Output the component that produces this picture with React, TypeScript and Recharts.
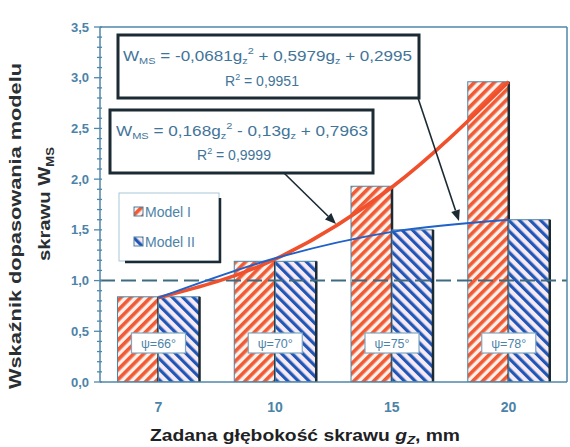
import React from 'react';
import { ComposedChart, Bar, Line, XAxis, YAxis, ReferenceLine, LabelList } from 'recharts';

const categories = ['7', '10', '15', '20'];
const modelI = [0.84, 1.19, 1.93, 2.96];
const modelII = [0.84, 1.19, 1.5, 1.6];
const trendModelI = [0.83, 1.21, 1.92, 2.96];
const trendModelII = [0.83, 1.22, 1.48, 1.6];
const psiLabels = ['ψ=66°', 'ψ=70°', 'ψ=75°', 'ψ=78°'];
const yTicks = [
  0, 0.1, 0.2, 0.3, 0.4, 0.5, 0.6, 0.7, 0.8, 0.9, 1.0, 1.1, 1.2, 1.3, 1.4, 1.5, 1.6, 1.7,
  1.8, 1.9, 2.0, 2.1, 2.2, 2.3, 2.4, 2.5, 2.6, 2.7, 2.8, 2.9, 3.0, 3.1, 3.2, 3.3, 3.4, 3.5,
];
const majorTicks = [0, 0.5, 1.0, 1.5, 2.0, 2.5, 3.0, 3.5];
const referenceLevel = 1.0;

const data = categories.map((c, i) => ({
  cat: c,
  m1: modelI[i],
  m2: modelII[i],
  t1: trendModelI[i],
  t2: trendModelII[i],
  psi: psiLabels[i],
}));

const FONT = '"Liberation Sans", Arial, sans-serif';
const AXIS = '#4f87a8';
const TICKTXT = '#4c83a8';
const BOXTXT = '#3f7599';
const DARK = '#1b2a33';

const YTick = (props: any) => {
  const { x, y, payload } = props;
  const v = payload.value;
  const major = majorTicks.some((m) => Math.abs(m - v) < 1e-6);
  return (
    <g>
      <line x1={x - (major ? 6 : 3)} x2={x + 2} y1={y} y2={y} stroke={AXIS} strokeWidth={1.3} />
      {major && (
        <text x={x - 11} y={y + 4.5} textAnchor="end" fontFamily={FONT} fontSize={13} fontWeight="bold" fill={TICKTXT}>
          {v.toFixed(1).replace('.', ',')}
        </text>
      )}
    </g>
  );
};

const XTick = (props: any) => {
  const { x, y, payload } = props;
  return (
    <text x={x} y={y + 30} textAnchor="middle" fontFamily={FONT} fontSize={14} fontWeight="bold" fill={TICKTXT}>
      {payload.value}
    </text>
  );
};

const makeBar = (fillId: string) => (props: any) => {
  const { x, y, width, height } = props;
  if (height <= 0) return <g />;
  return (
    <g>
      <rect x={x} y={y} width={width} height={height} fill={`url(#${fillId})`} stroke="#4a86a6" strokeWidth={1} />
      <line x1={x + width} x2={x + width} y1={y} y2={y + height} stroke={DARK} strokeWidth={2.5} />
    </g>
  );
};

const PsiLabel = (props: any) => {
  const { x, y, height, value } = props;
  const cx = x;
  const cy = y + height - 39;
  return (
    <g>
      <rect x={cx - 27} y={cy - 10} width={54} height={20} fill="#ffffff" stroke="#7fa9c4" strokeWidth={1.2} />
      <text x={cx} y={cy + 4.5} textAnchor="middle" fontFamily={FONT} fontSize={12.5} fill={TICKTXT}>
        {value}
      </text>
    </g>
  );
};

const Arrow = ({ x1, y1, x2, y2 }: any) => {
  const ang = Math.atan2(y2 - y1, x2 - x1);
  const L = 11;
  const W = 4.5;
  const bx = x2 - L * Math.cos(ang);
  const by = y2 - L * Math.sin(ang);
  const px = -Math.sin(ang) * W;
  const py = Math.cos(ang) * W;
  return (
    <g>
      <line x1={x1} y1={y1} x2={bx} y2={by} stroke={DARK} strokeWidth={1.6} />
      <polygon points={`${x2},${y2} ${bx + px},${by + py} ${bx - px},${by - py}`} fill={DARK} />
    </g>
  );
};

export default function App() {
  return (
    <div style={{ position: 'absolute', left: 0, top: 0, width: 570, height: 447, background: '#fff' }}>
      <svg width={0} height={0} style={{ position: 'absolute' }}>
        <defs>
          <pattern id="hatchRed" patternUnits="userSpaceOnUse" width={7} height={7} patternTransform="rotate(45)">
            <rect width={7} height={7} fill="#fff1ec" />
            <rect width={3.6} height={7} fill="#f05a34" />
          </pattern>
          <pattern id="hatchBlue" patternUnits="userSpaceOnUse" width={7.5} height={7.5} patternTransform="rotate(-45)">
            <rect width={7.5} height={7.5} fill="#f8eaf1" />
            <rect width={3.2} height={7.5} fill="#1f56b8" />
          </pattern>
        </defs>
      </svg>
      <ComposedChart
        width={570}
        height={447}
        data={data}
        margin={{ top: 27, right: 3, bottom: 0, left: 0 }}
        barCategoryGap="15%"
        barGap={0}
      >
        <XAxis
          dataKey="cat"
          height={65}
          tick={<XTick />}
          tickLine={false}
          tickSize={0}
          tickMargin={0}
          axisLine={{ stroke: AXIS, strokeWidth: 1.5 }}
        />
        <YAxis
          width={100}
          domain={[0, 3.5]}
          ticks={yTicks}
          interval={0}
          tick={<YTick />}
          tickLine={false}
          tickSize={0}
          tickMargin={0}
          axisLine={{ stroke: AXIS, strokeWidth: 1.5 }}
          allowDataOverflow
        />
        <Bar dataKey="m1" isAnimationActive={false} shape={makeBar('hatchRed')} />
        <Bar dataKey="m2" isAnimationActive={false} shape={makeBar('hatchBlue')}>
          <LabelList dataKey="psi" content={<PsiLabel />} />
        </Bar>
        <ReferenceLine y={referenceLevel} stroke="#3e6b80" strokeWidth={2} strokeDasharray="15 6" />
        <Line type="monotone" dataKey="t1" stroke="#f0502c" strokeWidth={3.5} dot={false} isAnimationActive={false} />
        <Line type="monotone" dataKey="t2" stroke="#2062c8" strokeWidth={2} dot={false} isAnimationActive={false} />
      </ComposedChart>
      <svg width={570} height={447} style={{ position: 'absolute', left: 0, top: 0, pointerEvents: 'none' }}>
        {/* plot frame top/right */}
        <line x1={100} x2={567} y1={27} y2={27} stroke={AXIS} strokeWidth={1.5} />
        <line x1={567} x2={567} y1={27} y2={382} stroke={AXIS} strokeWidth={1.5} />

        {/* arrows */}
        <Arrow x1={284} y1={173} x2={336} y2={224} />
        <Arrow x1={418} y1={98} x2={459} y2={221} />

        {/* equation box 1 */}
        <rect x={118} y={35} width={301} height={63} fill="#fff" stroke={DARK} strokeWidth={3} />
        <text x={123} y={61} fontFamily={FONT} fontSize={14} fill={BOXTXT} textLength={289} lengthAdjust="spacingAndGlyphs">
          W<tspan fontSize={9} dy={3}>MS</tspan>
          <tspan dy={-3}> = -0,0681g</tspan>
          <tspan fontSize={9} dy={3}>z</tspan>
          <tspan fontSize={9} dy={-10}>2</tspan>
          <tspan dy={7}> + 0,5979g</tspan>
          <tspan fontSize={9} dy={3}>z</tspan>
          <tspan dy={-3}> + 0,2995</tspan>
        </text>
        <text x={225} y={86} fontFamily={FONT} fontSize={14} fill={BOXTXT}>
          R<tspan fontSize={9} dy={-6}>2</tspan>
          <tspan dy={6}> = 0,9951</tspan>
        </text>

        {/* equation box 2 */}
        <rect x={110} y={110} width={263} height={63} fill="#fff" stroke={DARK} strokeWidth={3} />
        <text x={116} y={136} fontFamily={FONT} fontSize={14} fill={BOXTXT} textLength={252} lengthAdjust="spacingAndGlyphs">
          W<tspan fontSize={9} dy={3}>MS</tspan>
          <tspan dy={-3}> = 0,168g</tspan>
          <tspan fontSize={9} dy={3}>z</tspan>
          <tspan fontSize={9} dy={-10}>2</tspan>
          <tspan dy={7}> - 0,13g</tspan>
          <tspan fontSize={9} dy={3}>z</tspan>
          <tspan dy={-3}> + 0,7963</tspan>
        </text>
        <text x={197} y={160} fontFamily={FONT} fontSize={14} fill={BOXTXT}>
          R<tspan fontSize={9} dy={-6}>2</tspan>
          <tspan dy={6}> = 0,9999</tspan>
        </text>

        {/* legend */}
        <rect x={119} y={193} width={100} height={68} fill="#fff" stroke="#a9c6d8" strokeWidth={1} />
        <line x1={220} x2={220} y1={198} y2={263} stroke={DARK} strokeWidth={2.5} />
        <line x1={125} x2={221} y1={262} y2={262} stroke={DARK} strokeWidth={2.5} />
        <rect x={134} y={207} width={9} height={9} fill="url(#hatchRed)" stroke="#4a7fa0" strokeWidth={1} />
        <text x={145} y={217} fontFamily={FONT} fontSize={14} fill={TICKTXT}>Model I</text>
        <rect x={134} y={237} width={9} height={9} fill="url(#hatchBlue)" stroke="#4a7fa0" strokeWidth={1} />
        <text x={145} y={247} fontFamily={FONT} fontSize={14} fill={TICKTXT}>Model II</text>

        {/* y axis title */}
        <text
          x={15}
          y={232}
          transform="rotate(-90 15 226)"
          textAnchor="middle"
          fontFamily={FONT}
          fontSize={17}
          fontWeight="bold"
          fill="#2a2f33"
          textLength={326}
          lengthAdjust="spacingAndGlyphs"
        >
          Wskaźnik dopasowania modelu
        </text>
        <text
          x={44}
          y={210}
          transform="rotate(-90 44 204)"
          textAnchor="middle"
          fontFamily={FONT}
          fontSize={17}
          fontWeight="bold"
          fill="#2a2f33"
          textLength={114}
          lengthAdjust="spacingAndGlyphs"
        >
          skrawu  W<tspan fontSize={11} dy={4}>MS</tspan>
        </text>

        {/* x axis title */}
        <text x={150} y={441} fontFamily={FONT} fontSize={16} fontWeight="bold" fill="#1e2224" textLength={310} lengthAdjust="spacingAndGlyphs">
          Zadana głębokość skrawu  <tspan fontStyle="italic">g</tspan>
          <tspan fontStyle="italic" fontSize={11} dy={3}>Z</tspan>
          <tspan dy={-3}>,  mm</tspan>
        </text>
      </svg>
    </div>
  );
}
